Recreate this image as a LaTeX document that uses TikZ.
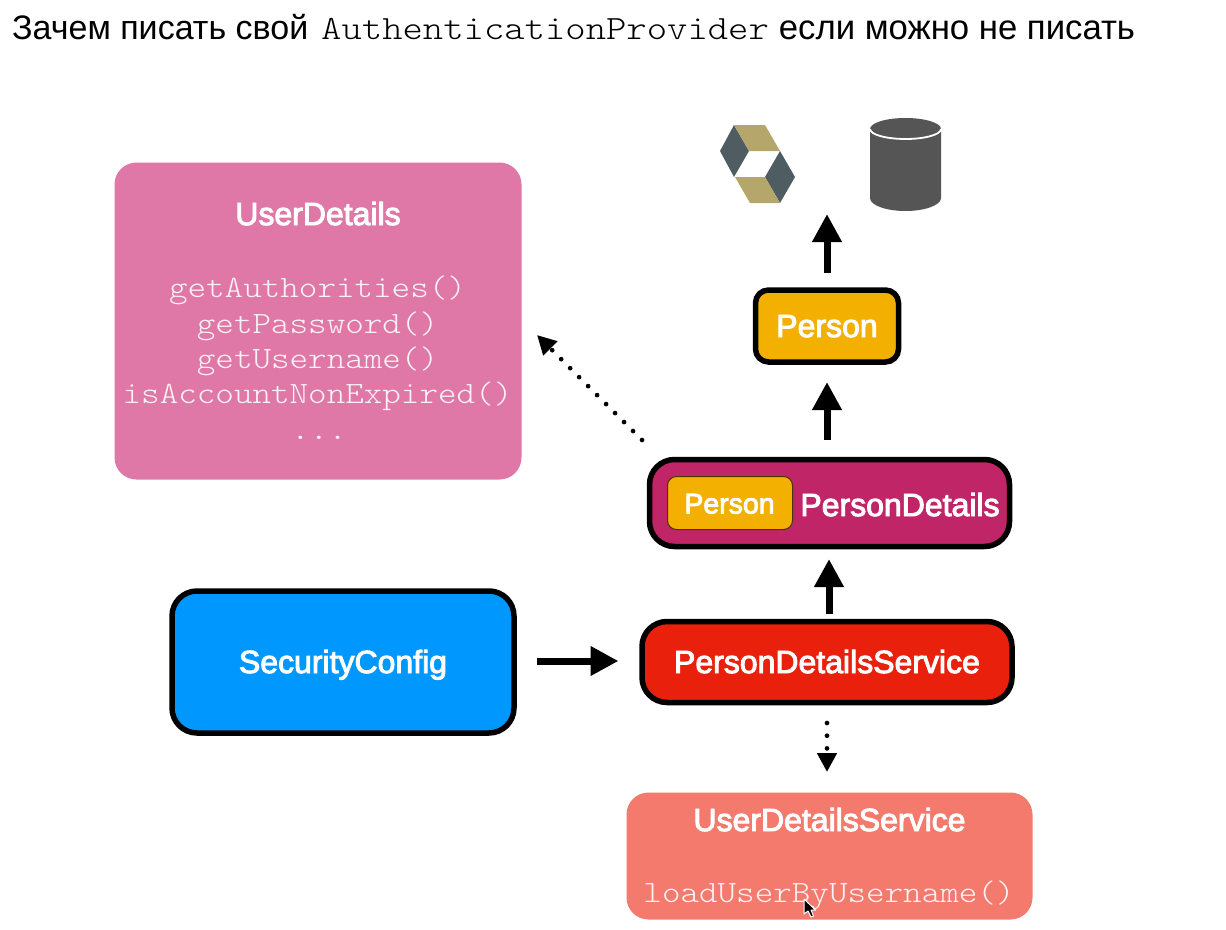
\documentclass[tikz,border=0pt]{standalone}
\usepackage{fontspec}
\setmainfont{Liberation Sans}
\newfontfamily\codefont[FakeStretch=1.14]{Latin Modern Mono Light}
\newfontfamily\labfont[FakeBold=3]{Liberation Sans}
\usetikzlibrary{arrows.meta}
\definecolor{pinkbox}{HTML}{DF78A6}
\definecolor{goldbox}{HTML}{F4B000}
\definecolor{magentabox}{HTML}{C02567}
\definecolor{bluebox}{HTML}{0098FF}
\definecolor{redbox}{HTML}{E8200C}
\definecolor{salmonbox}{HTML}{F47A6D}
\definecolor{hibgold}{HTML}{B5A76C}
\definecolor{hibslate}{HTML}{4F5D63}
\definecolor{dbgrey}{HTML}{555555}
\definecolor{codetext}{HTML}{FCF2F5}
\tikzset{
  x=1pt,y=-1pt,
  box/.style={rounded corners=#1,line width=5.5pt,draw=black,inner sep=0pt},
  softbox/.style={rounded corners=#1,inner sep=0pt},
  lab/.style={text=white,font=\fontsize{32}{32}\labfont,inner sep=0pt,anchor=base},
  code/.style={text=codetext,font=\fontsize{31}{31}\codefont,inner sep=0pt,anchor=base},
  bigarrow/.style={line width=7pt,-{Triangle[length=28pt,width=28pt]}},
  smallarrow/.style={line width=4.7pt,line cap=round,dash pattern=on 0pt off 12.7pt,-{Triangle[length=19pt,width=19pt]}},
}
\begin{document}
\begin{tikzpicture}
\useasboundingbox (0,0) rectangle (1226,929);
\fill[white] (0,0) rectangle (1226,929);
% title
\node[inner sep=0pt,anchor=base west,font=\fontsize{34}{35}\selectfont] (title) at (12,39)
  {Зачем писать свой\hspace{13pt}{\fontsize{34}{34}\codefont AuthenticationProvider}\hspace{10pt}{\fontsize{34.7}{35}\selectfont если можно не писать}};
% boxes
\node[softbox=22pt,fill=pinkbox,minimum width=407pt,minimum height=317pt] (ud) at (318,321) {};
\node[lab] (udt) at (318,225) {UserDetails};
\node[code] (c1) at (317.5,297) {getAuthorities()};
\node[code] (c2) at (317.5,333) {getPassword()};
\node[code] (c3) at (317.5,368) {getUsername()};
\node[code] (c4) at (317.5,403) {isAccountNonExpired()};
\node[code] (c5) at (319,439) {...};
% logos
\fill[hibslate] (720,151) -- (734,125) -- (749,151) -- (734,177) -- cycle;
\fill[hibgold] (734,125) -- (765,125) -- (780,151) -- (749,151) -- cycle;
\fill[hibslate] (795,177) -- (780,151) -- (765,177) -- (780,203) -- cycle;
\fill[hibgold] (735,177) -- (765,177) -- (780,203) -- (750,203) -- cycle;
\fill[dbgrey] (870,129) -- (870,198) arc[start angle=180,end angle=360,x radius=35.5pt,y radius=13pt] -- (941,129) arc[start angle=0,end angle=180,x radius=35.5pt,y radius=11pt] -- cycle;
\draw[white,line width=1.8pt] (870,129) arc[start angle=180,end angle=360,x radius=35.5pt,y radius=10pt];
% right column
\node[box=13pt,fill=goldbox,minimum width=143pt,minimum height=72pt] (person) at (827,326) {};
\node[lab] (persont) at (827,337) {Person};
\node[box=25pt,fill=magentabox,minimum width=360pt,minimum height=87pt] (pd) at (829.5,503) {};
\node[rounded corners=9pt,draw=black!70!goldbox,line width=1pt,fill=goldbox,minimum width=125pt,minimum height=53pt,inner sep=0pt] (pin) at (730,503) {};
\node[lab,font=\fontsize{28.5}{29}\labfont] (pint) at (729.5,513.5) {Person};
\node[lab] (pdt) at (900,516) {PersonDetails};
\node[box=25pt,fill=redbox,minimum width=370pt,minimum height=81pt] (pds) at (827,662) {};
\node[lab] (pdst) at (827,673) {PersonDetailsService};
\node[box=25pt,fill=bluebox,minimum width=342pt,minimum height=142pt] (sc) at (343,662) {};
\node[lab] (sct) at (343,673) {SecurityConfig};
\node[softbox=22pt,fill=salmonbox,minimum width=406pt,minimum height=127pt] (uds) at (829.5,856) {};
\node[lab] (udst) at (829.5,831) {UserDetailsService};
\node[code] (uc) at (829,902) {loadUserByUsername()};
% connectors
\coordinate (a1s) at (827,273); \coordinate (a1e) at (827,214);
\draw[bigarrow] (a1s) -- (a1e);
\coordinate (a2s) at (827,440); \coordinate (a2e) at (827,382);
\draw[bigarrow] (a2s) -- (a2e);
\coordinate (a3s) at (829,614); \coordinate (a3e) at (829,559);
\draw[bigarrow] (a3s) -- (a3e);
\coordinate (a4s) at (537,661); \coordinate (a4e) at (618.5,661);
\draw[bigarrow] (a4s) -- (a4e);
\coordinate (d1s) at (827,723); \coordinate (d1e) at (827,772);
\draw[smallarrow] (d1s) -- (d1e);
\coordinate (d2s) at (642,440); \coordinate (d2e) at (537,335);
\draw[smallarrow] (d2s) -- (d2e);
% cursor
\draw[white,line width=1pt,fill=black,line join=round] (804,899) -- (804,914) -- (808,911) -- (811,917) -- (813.5,916) -- (811,910) -- (815.5,910) -- cycle;
\end{tikzpicture}
\end{document}
